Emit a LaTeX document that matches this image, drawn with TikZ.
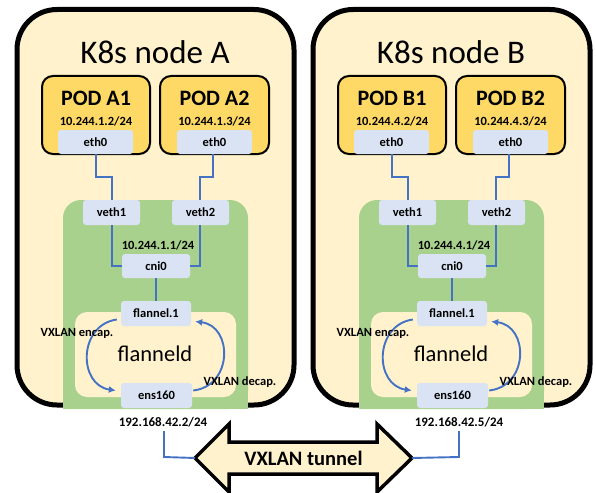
\documentclass[tikz,border=0pt]{standalone}
\usepackage{fontspec}
\setmainfont{Carlito}
\usetikzlibrary{arrows.meta,calc}
\definecolor{nodebg}{HTML}{FFF2CC}
\definecolor{podbg}{HTML}{FFD966}
\definecolor{greenbg}{HTML}{A9D18E}
\definecolor{ifbg}{HTML}{DAE3F3}
\definecolor{wirec}{HTML}{4472C4}
\tikzset{
  hostbox/.style={draw=black, line width=5pt, fill=nodebg, rounded corners=40pt},
  podbox/.style={draw=black, line width=2pt, fill=podbg, rounded corners=11pt},
  iface/.style={fill=ifbg, rounded corners=3pt, inner sep=0pt, font=\fontsize{12.5}{14}\selectfont\bfseries},
  wire/.style={draw=wirec, line width=1.9pt},
  lbl/.style={inner sep=0pt, font=\fontsize{12.5}{14}\selectfont\bfseries},
  title/.style={inner sep=0pt, font=\fontsize{33}{36}\selectfont},
  podtitle/.style={inner sep=0pt, font=\fontsize{22}{24}\selectfont\bfseries},
}
\begin{document}
\begin{tikzpicture}[x=1pt,y=-1pt]
\useasboundingbox (0,0) rectangle (596,492);
\foreach \s/\dx/\ip/\hip in {A/0/1/2,B/296/4/5}{
\begin{scope}[xshift=\dx pt]
  % host box
  \draw[hostbox] (17,9.5) rectangle (294,405);
  \node[title] (title\s) at (155,52) {K8s node \s};
  % green cni area
  \path[fill=greenbg, rounded corners=18pt] (63,409) -- (63,200) -- (248,200) -- (248,409) [sharp corners] -- cycle;
  \fill[greenbg] (63,380) rectangle (248,409);
  % flanneld box
  \node[fill=nodebg, rounded corners=12pt, minimum width=161pt, minimum height=85pt, inner sep=0pt] (fd\s) at (155.5,354.5) {};
  \node[inner sep=0pt, font=\fontsize{22.5}{24}\selectfont] (fdt\s) at (155,354) {flanneld};
  % pods
  \node[podbox, minimum width=108pt, minimum height=78pt] (pod1\s) at (96,115) {};
  \node[podbox, minimum width=109pt, minimum height=78pt] (pod2\s) at (214.5,115) {};
  \node[podtitle] (pt1\s) at (96,98) {POD \s1};
  \node[podtitle] (pt2\s) at (214.5,98) {POD \s2};
  \node[lbl] (pip1\s) at (96,121) {10.244.\ip.2/24};
  \node[lbl] (pip2\s) at (214.5,121) {10.244.\ip.3/24};
  % interfaces
  \node[iface, minimum width=75pt, minimum height=24pt] (eth1\s) at (95.5,142) {eth0};
  \node[iface, minimum width=75pt, minimum height=24pt] (eth2\s) at (214.5,142) {eth0};
  \node[iface, minimum width=57pt, minimum height=25pt] (veth1\s) at (111.5,212.5) {veth1};
  \node[iface, minimum width=57pt, minimum height=25pt] (veth2\s) at (200.5,212.5) {veth2};
  \node[lbl] (cip\s) at (158,245) {10.244.\ip.1/24};
  \node[iface, minimum width=68pt, minimum height=24pt] (cni\s) at (156,266) {cni0};
  \node[iface, minimum width=70pt, minimum height=25pt] (fl\s) at (156,313.5) {flannel.1};
  \node[iface, minimum width=71pt, minimum height=25pt] (ens\s) at (156.5,395.5) {ens160};
  % wires
  \draw[wire] (eth1\s.south -| 96,0) -- (96,177) -- (112,177) -- (veth1\s.north -| 112,0);
  \draw[wire] (eth2\s.south -| 213,0) -- (213,177) -- (200,177) -- (veth2\s.north -| 200,0);
  \draw[wire] (veth1\s.south -| 112,0) -- (112,266) -- (cni\s.west);
  \draw[wire] (veth2\s.south -| 200,0) -- (200,266) -- (cni\s.east);
  \draw[wire] (cni\s.south) -- (fl\s.north);
  % encap / decap arcs
  \draw[wire, -{Latex[length=7pt,width=7pt]}] ($(fl\s.west)+(-4,6)$) .. controls (78,325) and (78,385) .. ($(ens\s.west)+(-5,-5)$);
  \draw[wire, -{Latex[length=7pt,width=7pt]}] ($(ens\s.east)+(1,-5)$) .. controls (233,386) and (233,326) .. ($(fl\s.east)+(4,8)$);
  \node[lbl] (enc\s) at (77,333) {VXLAN encap.};
  \node[lbl] (dec\s) at (240,382) {VXLAN decap.};
  \node[lbl, font=\fontsize{13}{15}\selectfont\bfseries] (hip\s) at (163,422) {192.168.42.\hip/24};
\end{scope}
}
% tunnel arrow
\coordinate (tipL) at (195,458);
\coordinate (tipR) at (412,458);
\draw[line width=3.5pt, fill=nodebg, line join=miter] (tipL) -- (229,424) -- (229,442) -- (377,442) -- (377,424) -- (tipR) -- (377,492) -- (377,474) -- (229,474) -- (229,492) -- cycle;
\node[inner sep=0pt, font=\fontsize{20.5}{22}\selectfont\bfseries] (tun) at (303.5,458) {VXLAN tunnel};
\draw[wire] (hipA.south -| 164,0) ++(0,4) -- (164,457) -- (tipL);
\draw[wire] (hipB.south -| 459,0) ++(0,4) -- (459,457) -- (tipR);
\end{tikzpicture}
\end{document}
